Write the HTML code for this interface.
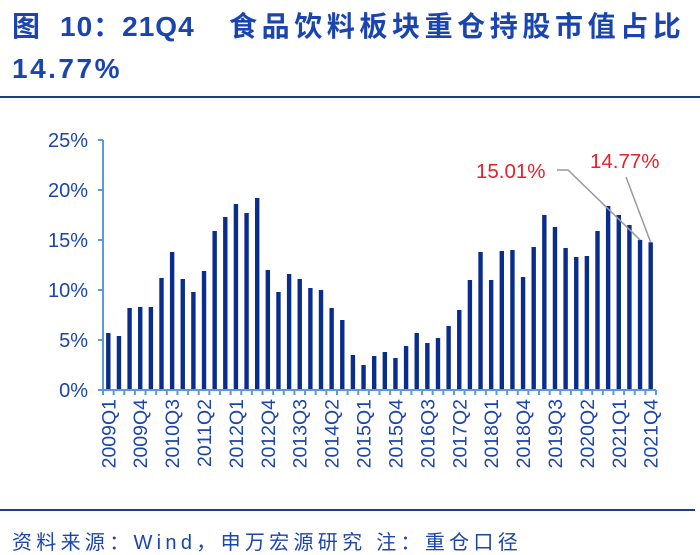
<!DOCTYPE html>
<html><head><meta charset="utf-8"><style>
body{margin:0;width:700px;height:555px;background:#fff;overflow:hidden;font-family:"Liberation Sans","Noto Sans CJK SC",sans-serif;}
.t{position:absolute;font-size:28px;font-weight:bold;color:#1a45b0;white-space:nowrap;line-height:32px}
#rule{position:absolute;left:0;top:96px;width:700px;height:2px;background:#1c3c8c}
#rule2{position:absolute;left:0;top:509px;width:695px;height:2px;background:#1c3c8c}
#src{position:absolute;left:12px;top:526px;font-size:20px;color:#1a45b0;letter-spacing:4.3px;white-space:nowrap}
svg{position:absolute;left:0;top:0}
</style></head><body>
<div id="title">
<span class="t" style="left:12px;top:11px">图</span>
<span class="t" style="left:60px;top:11px;letter-spacing:1px">10：21Q4</span>
<span class="t" style="left:229px;top:11px;letter-spacing:4.6px">食品饮料板块重仓持股市值占比</span>
<span class="t" style="left:12px;top:53px;letter-spacing:2.5px">14.77%</span>
</div>
<div id="rule"></div>
<div id="rule2"></div>
<svg id="chart" width="700" height="555"></svg>
<div id="src">资料来源：Wind，申万宏源研究 注：重仓口径</div>
<script>
const years=[2009,2010,2011,2012,2013,2014,2015,2016,2017,2018,2019,2020,2021];
const values=[5.7,5.4,8.2,8.3,8.3,11.2,13.8,11.1,9.8,11.9,15.9,17.3,18.6,17.7,19.2,12.0,9.8,11.6,11.1,10.2,10.0,8.2,7.0,3.5,2.5,3.4,3.8,3.2,4.4,5.7,4.7,5.2,6.4,8.0,11.0,13.8,11.0,13.9,14.0,11.3,14.3,17.5,16.3,14.2,13.3,13.4,15.9,18.4,17.5,16.5,15.01,14.77];
const yTicks=[0,5,10,15,20,25];
const categories=[];years.forEach(y=>{for(let q=1;q<=4;q++)categories.push(y+'Q'+q);});
const svg=document.getElementById('chart');const NS='http://www.w3.org/2000/svg';
const x0=103,x1=656,y0=390,yTop=140,ymax=25;
const bw=(x1-x0)/categories.length;
const X=i=>x0+bw*(i+0.5);const Y=v=>y0-(v/ymax)*(y0-yTop);
function mk(t,a){const e=document.createElementNS(NS,t);for(const k in a)e.setAttribute(k,a[k]);svg.appendChild(e);return e;}
let ax=mk('line',{x1:x0,y1:yTop,x2:x0,y2:y0,stroke:'#5b9bd5','stroke-width':2});

yTicks.forEach(v=>{
 const tk=mk('line',{x1:x0-5,y1:Y(v),x2:x0,y2:Y(v),stroke:'#5b9bd5','stroke-width':2});
 
 const t=mk('text',{x:x0-15,y:Y(v)+7,'text-anchor':'end','font-size':20,fill:'#1a45b0'});t.textContent=v+'%';
 
});
values.forEach((v,i)=>{
 const r=mk('rect',{x:X(i)-2.2,y:Y(v),width:4.4,height:y0-Y(v),fill:'#0a2d8c'});
 
});
let xa=mk('line',{x1:x0,y1:y0,x2:x1,y2:y0,stroke:'#5b9bd5','stroke-width':2});

for(let i=0;i<=categories.length;i++){
 const tk=mk('line',{x1:x0+bw*i,y1:y0,x2:x0+bw*i,y2:y0+5,stroke:'#5b9bd5','stroke-width':2});
 
}
categories.forEach((c,i)=>{if(i%3)return;
 const t=mk('text',{x:0,y:0,'text-anchor':'end','font-size':19.5,fill:'#1a45b0',transform:`translate(${X(i)+7},${y0+9}) rotate(-90)`});t.textContent=c;
 
});
const n=values.length;
let l1=mk('polyline',{points:`557,170 568,170 ${X(n-2)},${Y(values[n-2])}`,fill:'none',stroke:'#999','stroke-width':1.5});

let l2=mk('line',{x1:626,y1:177,x2:X(n-1),y2:Y(values[n-1]),stroke:'#999','stroke-width':1.5});

let a1=mk('text',{x:476,y:178,'font-size':20.5,fill:'#e8202a'});a1.textContent=values[n-2].toFixed(2)+'%';

let a2=mk('text',{x:590,y:168,'font-size':20.5,fill:'#e8202a'});a2.textContent=values[n-1].toFixed(2)+'%';

</script>
</body></html>
